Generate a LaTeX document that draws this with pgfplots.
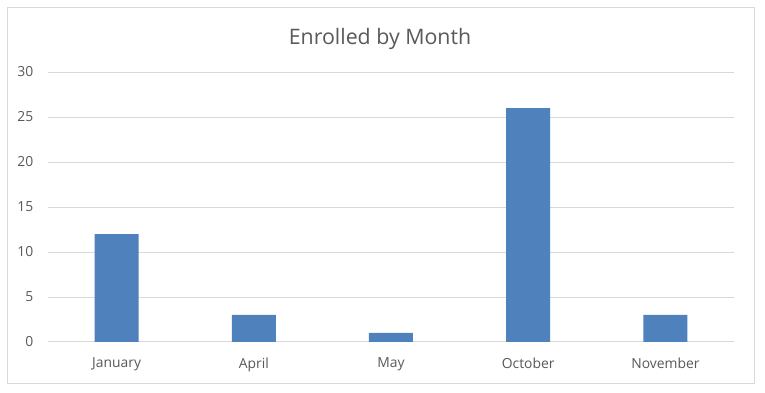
\documentclass[border=0pt]{standalone}
\usepackage{pgfplots}
\pgfplotsset{compat=1.18}
\usepackage{fontspec}
\setmainfont{Open Sans}
\definecolor{barblue}{HTML}{4F81BD}
\definecolor{gridgray}{HTML}{D9D9D9}
\definecolor{txtgray}{HTML}{595959}
\begin{document}
\begin{tikzpicture}
\path[fill=white] (-36pt,-38.25pt) rectangle (537.75pt,256.5pt);
\draw[color=gridgray, line width=0.75pt] (-30.75pt,-31.5pt) rectangle (529.5pt,250.5pt);
\node[text=txtgray, font=\fontsize{16}{18}\selectfont] at (249pt,227.5pt) {Enrolled by Month};
\begin{pgfinterruptboundingbox}
\begin{axis}[
  at={(0pt,0pt)}, anchor=south west,
  scale only axis,
  width=514.5pt, height=202.5pt,
  xmin=-0.5, xmax=4.5, ymin=0, ymax=30,
  ytick={0,5,...,30},
  xtick={0,1,2,3,4},
  xticklabels={January,April,May,October,November},
  major tick length=0pt,
  ymajorgrids, grid style={gridgray, line width=0.75pt},
  axis x line*=bottom, axis y line*=left,
  x axis line style={gridgray, line width=0.75pt, -},
  y axis line style={draw=none},
  ticklabel style={text=txtgray, font=\fontsize{10.4}{12}\selectfont},
  /pgf/number format/assume math mode=true,
  yticklabel style={xshift=-7.5pt},
  xticklabel style={yshift=-8.5pt},
]
\addplot[ybar, bar width=33pt, fill=barblue, draw=none] coordinates {
  (0,12) (1,3) (2,1) (3,26) (4,3)
};
\end{axis}
\end{pgfinterruptboundingbox}
\end{tikzpicture}
\end{document}
